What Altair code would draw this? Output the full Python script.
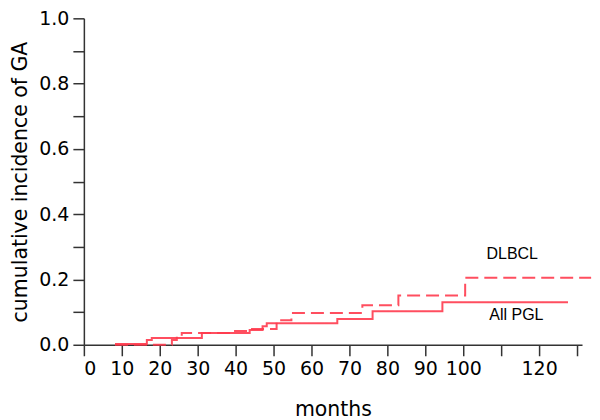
import altair as alt
import pandas as pd

# All PGL (solid) step curve
pgl_months = [8.2, 16.6, 17.9, 31.1, 43.7, 47.1, 48.2, 66.8, 76.1, 94.5, 127.6]
pgl_values = [0.002, 0.015, 0.021, 0.036, 0.045, 0.057, 0.066, 0.079, 0.103, 0.130, 0.130]

# DLBCL (dashed) step curve
dlbcl_months = [8.2, 23.2, 24.5, 25.8, 38.9, 43.7, 50.8, 54.7, 73.4, 82.9, 100.5, 133.7]
dlbcl_values = [0.0, 0.015, 0.027, 0.036, 0.042, 0.048, 0.075, 0.097, 0.121, 0.151, 0.205, 0.205]

label_text = ["DLBCL", "All PGL"]
label_month = [112.9, 114.0]
label_value = [0.278, 0.09]

x_ticks = list(range(0, 131, 10))
y_ticks = [round(i * 0.1, 1) for i in range(11)]

rows = []
for m, v in zip(pgl_months, pgl_values):
    rows.append({"month": m, "value": v, "series": "All PGL"})
for m, v in zip(dlbcl_months, dlbcl_values):
    rows.append({"month": m, "value": v, "series": "DLBCL"})
df = pd.DataFrame(rows)
labels = pd.DataFrame({"text": label_text, "month": label_month, "value": label_value})

RED = "#ff3b4e"

x_axis = alt.Axis(
    title="months",
    values=x_ticks,
    labelExpr="(datum.value == 110 || datum.value == 130) ? '' : datum.label",
    labelOverlap=False,
    tickSize=11,
    labelPadding=4,
    titlePadding=21,
)
y_axis = alt.Axis(
    title="cumulative incidence of GA",
    values=y_ticks,
    format=".1f",
    labelExpr="(round(datum.value * 10) % 2 == 1) ? '' : datum.label",
    labelOverlap=False,
    tickSize=11,
    labelPadding=4,
    titlePadding=8,
)
x_scale = alt.Scale(domain=[0, 131.3], nice=False, zero=False)
y_scale = alt.Scale(domain=[0, 1], nice=False)

lines = alt.Chart(df).mark_line(interpolate="step-after", strokeWidth=2, color=RED, opacity=0.9).encode(
    x=alt.X("month:Q", scale=x_scale, axis=x_axis),
    y=alt.Y("value:Q", scale=y_scale, axis=y_axis),
    strokeDash=alt.StrokeDash(
        "series:N",
        scale=alt.Scale(domain=["All PGL", "DLBCL"], range=[[1, 0], [13, 6]]),
        legend=None,
    ),
    detail="series:N",
)

text = alt.Chart(labels).mark_text(
    font="Liberation Sans", fontSize=16, color="black", align="center", baseline="middle"
).encode(
    x=alt.X("month:Q", scale=x_scale, axis=x_axis),
    y=alt.Y("value:Q", scale=y_scale, axis=y_axis),
    text="text:N",
)

chart = (
    alt.layer(lines, text)
    .properties(
        width=499,
        height=327,
        autosize=alt.AutoSizeParams(type="none"),
        padding={"left": 76, "top": 10, "right": 10, "bottom": 75},
    )
    .configure_view(stroke=None)
    .configure_axis(
        grid=False,
        domainColor="#333333",
        tickColor="#333333",
        domainWidth=1.5,
        tickWidth=1.5,
        labelFont="DejaVu Sans",
        labelFontSize=19,
        labelColor="black",
        titleFont="DejaVu Sans",
        titleFontSize=20.5,
        titleFontWeight="normal",
        titleColor="black",
    )
)

chart.save("out.html", embed_options={"renderer": "svg", "actions": False})
